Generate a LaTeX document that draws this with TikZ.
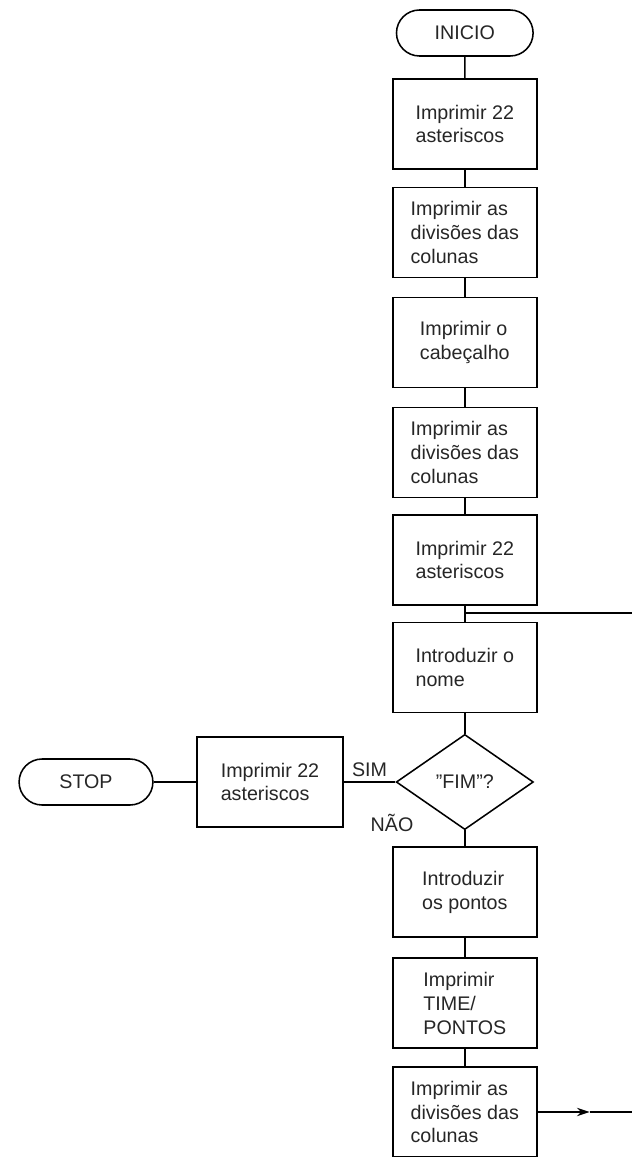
\documentclass[tikz,border=0pt]{standalone}
\usepackage{fontspec}
\setmainfont{Liberation Sans}
\usetikzlibrary{shapes.geometric,shapes.misc,arrows.meta}

\tikzset{
  box/.style={draw, line width=1.1pt, minimum width=3.6cm, minimum height=2.25cm,
    align=left, font=\fontsize{14}{17}\selectfont, text=black!85},
  term/.style={draw, line width=1.1pt, rounded rectangle, minimum width=3.65cm,
    minimum height=1.15cm, font=\fontsize{14}{17}\selectfont, text=black!85},
  decision/.style={draw, diamond, line width=1.1pt, inner sep=0pt, minimum width=3.43cm,
    minimum height=2.38cm, font=\fontsize{14}{17}\selectfont, text=black!85},
  link/.style={line width=1.1pt},
  lbl/.style={font=\fontsize{14}{17}\selectfont, text=black!85}
}

\begin{document}
\begin{tikzpicture}
    \useasboundingbox (0,0) rectangle (15.8,-28.925);

    % main column
    \node[term] (inicio) at (11.62,-0.825) {INICIO};
    \node[box] (ast1) at (11.62,-3.1) {Imprimir 22\\asteriscos};
    \node[box] (div1) at (11.62,-5.81) {Imprimir as\\divisões das\\colunas};
    \node[box] (cab) at (11.62,-8.56) {Imprimir o\\cabeçalho};
    \node[box] (div2) at (11.62,-11.31) {Imprimir as\\divisões das\\colunas};
    \node[box] (ast2) at (11.62,-14.0) {Imprimir 22\\asteriscos};
    \node[box] (nome) at (11.62,-16.69) {Introduzir o\\nome};
    \node[decision] (fim) at (11.62,-19.55) {"FIM"?};
    \node[box] (pontos) at (11.62,-22.3) {Introduzir\\os pontos};
    \node[box] (time) at (11.62,-25.08) {Imprimir\\TIME/\\PONTOS};
    \node[box] (div3) at (11.62,-27.8) {Imprimir as\\divisões das\\colunas};

    % exit branch
    \node[box, minimum width=3.65cm] (ast3) at (6.75,-19.55) {Imprimir 22\\asteriscos};
    \node[term, minimum width=3.58cm] (stop) at (2.15,-19.55) {STOP};

    \draw[link] (inicio) -- (ast1);
    \draw[link] (ast1) -- (div1);
    \draw[link] (div1) -- (cab);
    \draw[link] (cab) -- (div2);
    \draw[link] (div2) -- (ast2);
    \draw[link] (ast2) -- (nome);
    \draw[link] (nome) -- (fim);
    \draw[link] (fim) -- (pontos);
    \draw[link] (pontos) -- (time);
    \draw[link] (time) -- (div3);

    \draw[link] (fim.west) -- node[lbl, midway, above] {SIM} (ast3.east);
    \draw[link] (ast3) -- (stop);
    \node[lbl] (nao) at (9.8,-20.58) {NÃO};

    % loop back
    \coordinate (join) at (11.62,-15.33);
    \coordinate (loopin) at (15.8,-15.33);
    \coordinate (loopout) at (15.8,-27.8);
    \draw[link] (loopin) -- (join);
    \draw[link, -{Stealth[length=9pt,width=6pt]}] (div3.east) -- ++(1.3,0) coordinate (tip);
    \draw[link] (tip) -- (loopout);
\end{tikzpicture}
\end{document}
